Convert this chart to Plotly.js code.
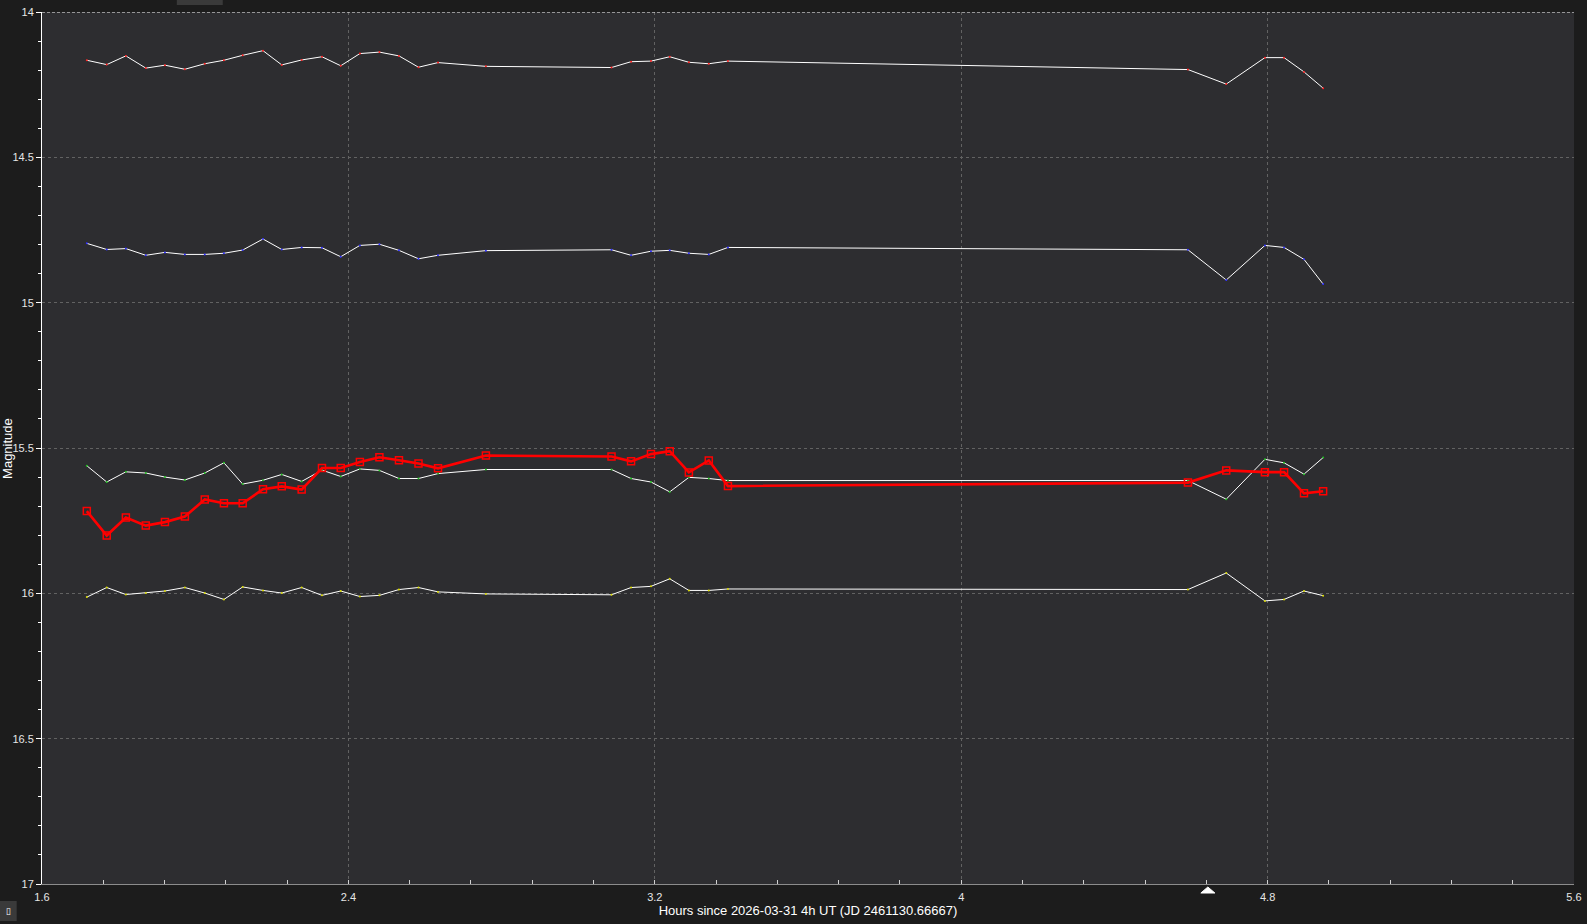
<!DOCTYPE html>
<html><head><meta charset="utf-8">
<script src="https://cdn.plot.ly/plotly-3.0.1.min.js"></script>
<style>html,body{margin:0;padding:0;background:#1c1c1c;overflow:hidden}#chart{width:1587px;height:924px}</style>
</head><body><div id="chart"></div>
<script>
// Hours since 2026-03-31 4h UT
const hours = [1.717, 1.769, 1.819, 1.871, 1.921, 1.973, 2.025, 2.075, 2.124, 2.177, 2.226, 2.278, 2.331, 2.380, 2.430, 2.481, 2.532, 2.583, 2.634, 2.759, 3.087, 3.138, 3.190, 3.239, 3.289, 3.341, 3.391, 4.592, 4.692, 4.793, 4.843, 4.895, 4.945];

// Comparison stars (white lines)
const comp1 = [14.166, 14.181, 14.151, 14.193, 14.183, 14.197, 14.178, 14.166, 14.149, 14.133, 14.182, 14.165, 14.154, 14.185, 14.143, 14.138, 14.151, 14.190, 14.174, 14.187, 14.191, 14.171, 14.169, 14.154, 14.173, 14.178, 14.169, 14.198, 14.248, 14.157, 14.157, 14.206, 14.262];
const comp2 = [14.796, 14.817, 14.814, 14.837, 14.827, 14.834, 14.834, 14.830, 14.819, 14.781, 14.817, 14.810, 14.811, 14.842, 14.803, 14.799, 14.820, 14.849, 14.837, 14.821, 14.818, 14.837, 14.823, 14.820, 14.830, 14.834, 14.810, 14.818, 14.922, 14.803, 14.810, 14.851, 14.936];
const comp3 = [15.561, 15.617, 15.582, 15.586, 15.600, 15.610, 15.586, 15.551, 15.624, 15.611, 15.591, 15.615, 15.576, 15.598, 15.572, 15.577, 15.605, 15.605, 15.588, 15.574, 15.574, 15.605, 15.617, 15.651, 15.601, 15.605, 15.612, 15.612, 15.676, 15.539, 15.551, 15.590, 15.533];
const comp4 = [16.013, 15.980, 16.004, 15.999, 15.992, 15.980, 15.999, 16.021, 15.978, 15.990, 15.999, 15.980, 16.007, 15.992, 16.011, 16.007, 15.987, 15.980, 15.995, 16.002, 16.005, 15.980, 15.976, 15.950, 15.990, 15.990, 15.985, 15.987, 15.930, 16.026, 16.021, 15.992, 16.008];

// Target (red)
const target = [15.717, 15.801, 15.739, 15.767, 15.755, 15.736, 15.677, 15.690, 15.690, 15.642, 15.632, 15.643, 15.569, 15.569, 15.548, 15.532, 15.542, 15.553, 15.570, 15.526, 15.529, 15.546, 15.521, 15.511, 15.584, 15.543, 15.631, 15.619, 15.577, 15.583, 15.583, 15.656, 15.649];

// "now" marker under the time axis
const nowHours = [4.644];

const xRange = [1.6, 5.6];
const yRange = [17, 14];

const compSeries = [
  {y: comp1, dot: '#ff2020'},
  {y: comp2, dot: '#3030ff'},
  {y: comp3, dot: '#20c020'},
  {y: comp4, dot: '#d8d800'}
];

const FONT = 'Liberation Sans, Arial, sans-serif';
const traces = [];
compSeries.forEach(s => {
  traces.push({
    x: hours, y: s.y, type: 'scatter', mode: 'lines+markers',
    line: {color: '#ffffff', width: 1},
    marker: {color: s.dot, size: 2},
    hoverinfo: 'skip', showlegend: false
  });
});
traces.push({
  x: hours, y: target, type: 'scatter', mode: 'lines+markers',
  line: {color: '#ff0000', width: 2.6},
  marker: {symbol: 'square-open', size: 7, color: '#ff0000', line: {color: '#ff0000', width: 1.5}},
  showlegend: false
});

const layout = {
  width: 1587, height: 924,
  margin: {l: 42, r: 13, t: 12, b: 40, pad: 0},
  paper_bgcolor: '#1c1c1c',
  plot_bgcolor: '#2d2d30',
  font: {family: FONT, color: '#e6e6e6', size: 11},
  showlegend: false,
  xaxis: {
    range: xRange, tick0: 1.6, dtick: 0.8,
    ticks: 'inside', ticklen: 4, tickcolor: '#d0d0d0', tickwidth: 1,
    showline: true, linecolor: '#8c8c8c', linewidth: 1,
    showgrid: true, gridcolor: '#626262', griddash: '3px,3px', gridwidth: 1,
    zeroline: false,
    minor: {tick0: 1.6, dtick: 0.16, ticks: 'inside', ticklen: 4, tickcolor: '#d0d0d0', showgrid: false},
    tickfont: {family: FONT, size: 11, color: '#e6e6e6'},
    ticklabelstandoff: 3,
    title: {text: 'Hours since 2026-03-31 4h UT (JD 2461130.66667)', font: {family: FONT, size: 13, color: '#ffffff'}, standoff: 3},
    automargin: false
  },
  yaxis: {
    range: yRange, tick0: 14, dtick: 0.5,
    ticks: 'outside', ticklen: 5, tickcolor: '#ffffff', tickwidth: 1,
    showline: true, linecolor: '#ffffff', linewidth: 1,
    showgrid: true, gridcolor: '#626262', griddash: '3px,3px', gridwidth: 1,
    zeroline: false,
    minor: {tick0: 14, dtick: 0.1, ticks: 'outside', ticklen: 3, tickcolor: '#ffffff', showgrid: false},
    tickfont: {family: FONT, size: 11, color: '#e6e6e6'},
    automargin: false
  },
  shapes: [
    {type: 'line', xref: 'paper', yref: 'y', x0: 0, x1: 1, y0: yRange[1], y1: yRange[1],
     line: {color: '#ffffff', width: 1, dash: '3px,2px'}},
    {type: 'path', xref: 'x', yref: 'paper', xsizemode: 'pixel', ysizemode: 'pixel',
     xanchor: nowHours[0], yanchor: 0, path: 'M-7,-9 L7,-9 L0,-3 Z',
     fillcolor: '#ffffff', line: {color: '#ffffff', width: 1}},
    {type: 'rect', xref: 'paper', yref: 'paper', x0: -0.0274, x1: -0.0165, y0: -0.0425, y1: -0.0195,
     fillcolor: '#3a3a3a', line: {width: 0}, layer: 'below'},
    {type: 'rect', xref: 'paper', yref: 'paper', x0: 0.088, x1: 0.118, y0: 1.008, y1: 1.0138,
     fillcolor: '#3a3a3a', line: {width: 0}, layer: 'below'}
  ],
  annotations: [
    {text: 'Magnitude', xref: 'paper', yref: 'paper', x: -0.0229, y: 0.5, textangle: -90,
     showarrow: false, xanchor: 'center', yanchor: 'middle', font: {family: FONT, size: 13, color: '#ffffff'}},
    {text: '▯', xref: 'paper', yref: 'paper', x: -0.022, y: -0.031, showarrow: false,
     xanchor: 'center', yanchor: 'middle', font: {family: FONT, size: 9, color: '#ffffff'}}
  ]
};

Plotly.newPlot('chart', traces, layout, {staticPlot: true, displayModeBar: false});
</script></body></html>
